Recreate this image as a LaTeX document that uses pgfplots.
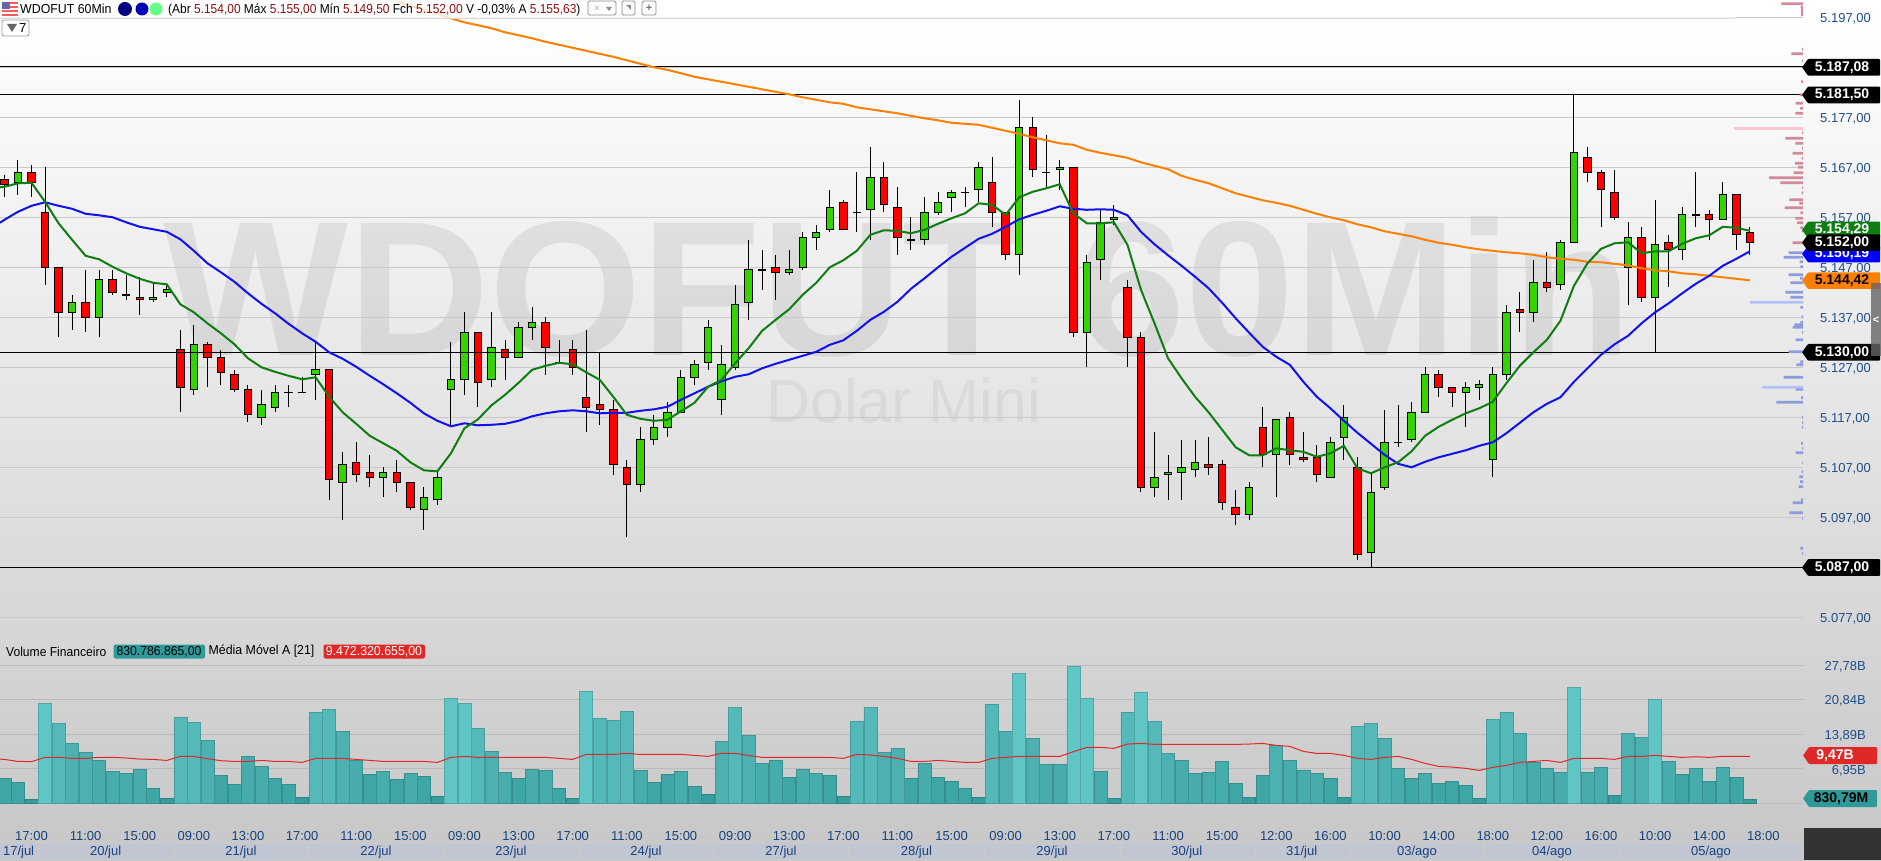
\documentclass[border=0pt]{standalone}
\usepackage{pgfplots}
\usepackage{pgfplotstable}
\usepackage{fontspec}
\setmainfont{Liberation Sans}
\pgfplotsset{compat=1.18}
\definecolor{upc}{HTML}{33D400}
\definecolor{dnc}{HTML}{FF0000}
\definecolor{gl}{HTML}{0F7D12}
\definecolor{bl}{HTML}{1010F0}
\definecolor{ol}{HTML}{FF8000}
\definecolor{gridc}{HTML}{C9C9C9}
\definecolor{tickc}{HTML}{1F4E8C}
\definecolor{xtc}{HTML}{17427E}
\definecolor{price}{HTML}{8B1010}
\definecolor{tealtag}{HTML}{2F9A9A}
\definecolor{redtag}{HTML}{E02828}
\definecolor{pr}{HTML}{D08A98}
\definecolor{prp}{HTML}{FCC5D0}
\definecolor{pb}{HTML}{8C9CDC}
\definecolor{pbp}{HTML}{B0C0F8}
\definecolor{daybox}{HTML}{C2C6D2}
\definecolor{bar1}{HTML}{379C9C}
\definecolor{bar2}{HTML}{3FA6A6}
\definecolor{bar3}{HTML}{47ACAC}
\definecolor{bar4}{HTML}{4DB1B1}
\definecolor{bar5}{HTML}{55B9B9}
\definecolor{bar6}{HTML}{5FC5C5}

% i bottom top low high
\pgfplotstableread{
i b t l h
-1 5164 5166 5161.5 5168.5
3 5138 5140 5134.5 5141.5
5 5137 5144.5 5133 5146.5
9 5140.5 5141 5140 5144
10 5142 5142.5 5141 5143.5
12 5122.5 5131.5 5121.5 5135.5
17 5117 5119.5 5115.5 5122.5
18 5119 5122 5118 5123.5
21 5125.5 5126.5 5120.5 5132
23 5104 5107.5 5096.5 5110
26 5105 5106 5101 5107
29 5098.5 5101 5094.5 5103
30 5100.5 5105 5099.5 5106
31 5122.5 5124.5 5115 5132
32 5124.5 5134 5121.5 5138
34 5124.5 5131 5123 5138
36 5129 5135 5129 5136
37 5135 5136 5132.5 5139
45 5103.5 5112.5 5102 5115
46 5112.5 5115 5111.5 5117.5
47 5115 5118 5113 5120
48 5118 5125 5118 5126.5
49 5125 5127.5 5123.5 5128.5
50 5128 5135 5126.5 5136.5
51 5120.5 5127.5 5117.5 5131.5
52 5127 5139.5 5126.5 5143.5
53 5140 5146.5 5136.5 5152.5
56 5146 5146.5 5145.5 5150.5
57 5147 5153 5146.5 5154
58 5153 5154 5150.5 5155.5
59 5154.5 5159 5154 5162.5
62 5158.5 5165 5152.5 5171
66 5152.5 5158 5151.5 5161
67 5158 5160 5157.5 5162
68 5161 5162 5158 5162.5
70 5162.5 5167 5160 5168
73 5149.5 5175 5145.5 5180.5
76 5166.5 5167 5162.5 5168.5
78 5134 5148 5127 5149.5
79 5148.5 5156 5144.5 5158.5
80 5156.5 5157 5155.5 5159.5
83 5103 5105 5101 5114
84 5105.5 5106 5100.5 5109.5
85 5106 5107 5100.5 5112.5
86 5106.5 5108 5105 5112.5
90 5097.5 5103 5096.5 5104
92 5109.5 5116.5 5101 5116.5
96 5105 5112 5105 5113
97 5113 5117 5108.5 5119.5
99 5090 5102 5087 5106
100 5103 5112 5102.5 5118.5
102 5112.5 5118 5112 5120
103 5118 5125.5 5118 5127
106 5122 5123 5115 5124
107 5123 5123.5 5120.5 5124.5
108 5108.5 5125.5 5105 5127
109 5125.5 5138 5124.5 5139.5
111 5138 5144 5136 5148.5
113 5143.5 5152 5142.5 5152.5
114 5152 5170 5152 5181.5
118 5147 5153 5139.5 5156
120 5141 5151.5 5130 5160.5
122 5150.5 5157.5 5148.5 5159
125 5156.5 5161.5 5156.5 5164
}\upT
\pgfplotstableread{
i b t l h
-2 5163.5 5164.5 5161 5165.5
0 5164 5166 5161 5167.5
1 5147 5158 5143.5 5167
2 5138 5147 5133 5147
4 5137 5140 5134 5146.5
6 5142 5144.5 5141.5 5146.5
8 5140.5 5141 5137.5 5145
11 5123 5130.5 5118 5134.5
13 5129 5131.5 5123 5132
14 5126 5129 5123.5 5130.5
15 5122.5 5125.5 5122 5126.5
16 5117.5 5122.5 5116 5123.5
22 5104.5 5126.5 5100.5 5126.5
24 5105.5 5108 5104 5112
25 5105 5106 5103 5109.5
27 5104 5106 5102 5108.5
28 5099 5104 5098.5 5104
33 5124 5134 5119 5134
35 5129 5130.5 5124.5 5132.5
38 5131 5136 5125.5 5137
40 5127 5130.5 5125.5 5132.5
41 5119 5121 5114 5134.5
42 5118.5 5119.5 5115.5 5130
43 5107.5 5118.5 5105.5 5120.5
44 5103.5 5107 5093 5108.5
55 5146 5147 5140.5 5149.5
60 5154.5 5160 5154.5 5160.5
63 5159.5 5165 5158 5168
64 5153 5159 5149.5 5163
71 5158 5164 5155 5169
72 5149.5 5158 5148.5 5158
74 5166.5 5175 5165 5177
77 5134 5167 5133 5167
81 5133 5143 5127 5144.5
82 5103 5133 5102 5134
87 5107 5107.5 5105.5 5113
88 5100 5107.5 5098.5 5108.5
89 5097.5 5099 5095.5 5102.5
91 5109.5 5115 5107 5119
93 5109.5 5117 5107.5 5118
94 5108.5 5109 5108 5114
95 5105.5 5109 5104 5111.5
98 5089.5 5107 5088.5 5109
104 5123 5125.5 5121 5126.5
105 5122 5123 5119 5123
110 5138 5138.5 5134 5142
112 5143 5144 5142 5150
115 5166 5169 5164 5171
116 5162.5 5166 5155 5166.5
117 5157 5162 5156.5 5166.5
119 5141 5153 5140 5155
121 5150.5 5152 5143 5153.5
124 5156.5 5157.5 5152.5 5158.5
126 5153.5 5161.5 5150.5 5161.5
127 5152 5154 5149.5 5155
}\dnT
\pgfplotstableread{
i b t l h
7 5141.5 5141.5 5140.5 5145.5
19 5122 5122 5119 5123.5
20 5122 5122 5122 5125
39 5128 5128 5128 5132.5
54 5146.5 5146.5 5142.5 5150.5
61 5158 5158 5154 5166
65 5152.5 5152.5 5150.5 5157
69 5162 5162 5159 5163
75 5166 5166 5163 5173.5
101 5112 5112 5111 5119.5
123 5157.5 5157.5 5155 5166
}\dojiT
\pgfplotstableread{
i v
-2 5.09
-1 4.29
0 0.87
1 20.17
2 16.15
3 12.13
4 10.32
5 8.71
6 6.50
7 6.10
8 6.90
9 3.08
10 1.07
11 17.35
12 16.35
13 12.73
14 5.70
15 3.89
16 9.51
17 7.50
18 5.09
19 3.89
20 1.27
21 18.36
22 18.96
23 14.54
24 8.71
25 5.90
26 6.50
27 4.89
28 6.10
29 5.49
30 1.47
31 21.17
32 20.17
33 15.14
34 10.52
35 6.30
36 5.09
37 6.90
38 6.70
39 3.08
40 1.07
41 22.58
42 17.15
43 16.75
44 18.56
45 6.70
46 4.29
47 5.90
48 6.50
49 3.48
50 1.88
51 12.53
52 19.36
53 13.74
54 8.11
55 8.71
56 5.29
57 6.90
58 6.10
59 5.70
60 1.47
61 16.55
62 19.36
63 10.32
64 11.12
65 5.09
66 8.11
67 5.29
68 4.49
69 3.08
70 1.27
71 19.97
72 14.54
73 26.20
74 13.13
75 7.91
76 7.91
77 27.60
78 21.17
79 6.50
80 1.07
81 18.36
82 22.38
83 16.55
84 10.12
85 8.71
86 6.10
87 6.30
88 8.51
89 4.09
90 1.27
91 5.70
92 11.73
93 8.71
94 6.70
95 6.10
96 5.09
97 1.27
98 15.54
99 16.15
100 13.13
101 7.10
102 5.09
103 6.10
104 4.09
105 4.49
106 3.69
107 1.07
108 16.95
109 18.36
110 14.14
111 8.31
112 7.10
113 6.30
114 23.38
115 6.30
116 7.30
117 1.68
118 14.14
119 13.33
120 20.97
121 8.51
122 5.90
123 7.10
124 4.49
125 7.30
126 5.29
127 0.83
}\volT

\pgfplotsset{
  wick/.style={draw=none,no markers,forget plot,
    error bars/y dir=plus,error bars/y explicit,error bars/error mark=none,
    error bars/error bar style={black,line width=1pt}},
  bodyo/.style={draw=none,no markers,forget plot,
    error bars/y dir=plus,error bars/y explicit,error bars/error mark=none,
    error bars/error bar style={black,line width=8.4pt}},
  bodyc/.style={draw=none,no markers,forget plot,
    error bars/y dir=plus,error bars/y explicit,error bars/error mark=none,
    error bars/error bar style={#1,line width=6.4pt}},
  vb/.style={ybar,bar width=13pt,bar shift=0pt,fill=#1,draw=#1!85!black,line width=.6pt,forget plot},
}
\newcommand{\candles}[2]{%
  \addplot[wick] table[x=i,y=l,y error plus expr=\thisrow{h}-\thisrow{l}] {#1};
  \addplot[bodyo] table[x=i,y expr=\thisrow{b}-0.1,y error plus expr=\thisrow{t}-\thisrow{b}+0.2] {#1};
  \addplot[bodyc=#2] table[x=i,y expr=\thisrow{b}+0.1,y error plus expr=\thisrow{t}-\thisrow{b}-0.2] {#1};
}
% price tag at pixel height #1
\newcommand{\ptag}[4]{%
  \pgfmathsetmacro{\yy}{860-#1}
  \fill[#2,rounded corners=.8pt] (1802pt,\yy pt) -- (1808pt,\yy pt+8.3pt) -- (1880pt,\yy pt+8.3pt) -- (1880pt,\yy pt-8.3pt) -- (1808pt,\yy pt-8.3pt) -- cycle;
  \node[#4,font=\fontsize{14}{16}\selectfont\bfseries,inner sep=0pt] at (1842pt,\yy pt) {#3};
}
\newcommand{\dbox}[4]{%
  \fill[daybox] (#1pt,1pt) rectangle (#2pt,16pt);
  \node[xtc,font=\fontsize{13}{15}\selectfont,inner sep=0pt] at (#3pt,8.3pt) {#4};
}

\begin{document}
\begin{tikzpicture}[x=1pt,y=1pt]
\path[use as bounding box] (0pt,0pt) rectangle (1881pt,860pt);
\shade[top color=white,bottom color=black!22] (0pt,0pt) rectangle (1881pt,842pt);
\fill[black!21] (0pt,0pt) rectangle (1881pt,20pt);
% watermark
\node[anchor=base west,inner sep=0pt,black,opacity=.075,xscale=1.02,font=\fontsize{192}{200}\selectfont\bfseries] at (163pt,504pt) {WDOFUT 60Min};
\node[anchor=base west,inner sep=0pt,black,opacity=.05,font=\fontsize{61}{64}\selectfont] at (766pt,437pt) {Dolar Mini};

% --- price panel
\begin{axis}[name=main,at={(0pt,220pt)},anchor=south west,scale only axis,width=1803pt,height=640pt,
  xmin=-2.328,xmax=130.93,ymin=5072.46,ymax=5200.46,
  axis line style={draw=none},tick style={draw=none},major tick length=0pt,
  xtick=\empty,
  ytick={5077,5087,5097,5107,5117,5127,5137,5147,5157,5167,5177,5187,5197},
  yticklabels={{5.077,00},{},{5.097,00},{5.107,00},{5.117,00},{5.127,00},{5.137,00},{5.147,00},{5.157,00},{5.167,00},{5.177,00},{},{5.197,00}},
  yticklabel pos=right,
  yticklabel style={font=\fontsize{13}{15}\selectfont,text=tickc,inner sep=0pt,anchor=west,xshift=17pt,yshift=-1.4pt},
  ymajorgrids,major grid style={gridc,line width=1pt},
]
\candles{\upT}{upc}
\candles{\dnT}{dnc}
\addplot[wick] table[x=i,y=l,y error plus expr=\thisrow{h}-\thisrow{l}] {\dojiT};
\addplot[draw=none,no markers,forget plot,error bars/y dir=plus,error bars/y explicit,error bars/error mark=none,error bars/error bar style={black,line width=8.4pt}] table[x=i,y expr=\thisrow{b}-0.15,y error plus expr=0.3] {\dojiT};
% horizontal levels
\addplot[black,line width=1pt,forget plot] coordinates {(-3,5187.08)(131,5187.08)};
\addplot[black,line width=1pt,forget plot] coordinates {(-3,5181.5)(131,5181.5)};
\addplot[black,line width=1pt,forget plot] coordinates {(-3,5130)(131,5130)};
\addplot[black,line width=1pt,forget plot] coordinates {(-3,5087)(131,5087)};
% orange average
\addplot[ol,line width=2pt,forget plot] coordinates {
(27,5200.2)(28,5199.3)(29,5198.5)(30,5197.7)(31,5196.8)(32,5196)(33,5195.4)(34,5194.8)(35,5194)(36,5193.4)(37,5192.8)(38,5192.1)(39,5191.5)(40,5190.9)(41,5190.3)(42,5189.7)(43,5189.1)(44,5188.4)(45,5187.7)(46,5187)(47,5186.5)(48,5185.8)(49,5185.1)
(50,5184.6)(51,5184.1)(52,5183.6)(53,5183.1)(54,5182.6)(55,5182.1)(56,5181.6)(57,5181)(58,5180.5)(59,5180)(60,5179.7)(61,5179)(62,5178.6)(63,5178.2)(64,5177.8)(65,5177.3)(66,5176.8)(67,5176.4)(68,5175.9)(69,5175.7)(70,5175.5)(71,5174.9)(72,5174.3)(73,5173.7)(74,5173)(75,5172.4)(76,5171.8)(77,5171.5)(78,5170.5)(79,5169.9)(80,5169.4)(81,5168.9)(82,5168)(83,5167.3)(84,5166.6)(85,5165.3)(86,5164.5)(87,5163.8)(88,5162.8)(89,5161.8)(90,5161.1)(91,5160.4)(92,5159.9)(93,5159.3)
(94,5158.5)(95,5157.7)(96,5157)(97,5156.4)(98,5155.6)(99,5155)(100,5154.2)(101,5153.7)(102,5153.2)(103,5152.5)(104,5151.9)(105,5151.5)(106,5151)(107,5150.6)(108,5150.3)(109,5150)(110,5149.8)(111,5149.5)(112,5149)(113,5148.7)(114,5148.5)(115,5148.1)(116,5148)(117,5147.7)(118,5147.4)(119,5146.8)(120,5146.4)(121,5146.2)(122,5145.8)(123,5145.6)(124,5145.3)(125,5145)(126,5144.7)(127,5144.4)};
% blue average
\addplot[bl,line width=2pt,forget plot] coordinates {
(-2.33,5155.9)(-2,5156.5)(-1,5158.1)(0,5159.3)(1,5160)(2,5159.3)(3,5158.7)(4,5157.7)(5,5157.4)(6,5157)(7,5156)(8,5155.1)(9,5154.6)(10,5154.1)(11,5152.6)(12,5150.3)(13,5147.8)(14,5146)(15,5144.1)(16,5141.8)(17,5139.7)(18,5137.8)(19,5135.7)(20,5133.8)(21,5132.1)(22,5130)(23,5128.7)(24,5127.1)(25,5125.3)(26,5123.6)(27,5121.8)(28,5119.9)(29,5117.8)(30,5116.3)(31,5115.2)(32,5115.8)(33,5115.4)(34,5115.5)(35,5115.7)(36,5116.3)(37,5117.2)(38,5117.8)(39,5118.2)(40,5118.4)(41,5118.2)(42,5117.8)(43,5117.9)(44,5117.9)(45,5118.3)(46,5118.6)(47,5119.1)(48,5120.5)(49,5121.8)(50,5123.1)(51,5124.2)(52,5125.1)(53,5125.6)(54,5126.8)(55,5127.7)(56,5128.5)(57,5129.3)(58,5130.1)(59,5131.5)(60,5132.4)(61,5134.3)(62,5136.5)(63,5138.1)(64,5140.1)(65,5142.7)(66,5144.8)(67,5147)(68,5149.1)(69,5150.9)(70,5152.7)(71,5153.7)(72,5155.1)(73,5156.6)(74,5157.5)(75,5158.3)(76,5159.2)(77,5158.7)(78,5158.5)(79,5158.6)(80,5158.5)(81,5157.4)(82,5154.1)(83,5151.6)(84,5149.4)(85,5147.3)(86,5145.1)(87,5142.8)(88,5139.9)(89,5136.8)(90,5133.9)(91,5131.1)(92,5129.1)(93,5127.5)(94,5124.1)(95,5121.1)(96,5118.8)(97,5116.3)(98,5113.9)(99,5111.7)(100,5109.5)(101,5107.7)(102,5107)(103,5108.1)(104,5109)(105,5109.7)(106,5110.4)(107,5111.3)(108,5112)(109,5113.8)(110,5115.9)(111,5118)(112,5119.7)(113,5121)(114,5124.1)(115,5126.8)(116,5129.5)(117,5131.6)(118,5133.3)(119,5135.8)(120,5138)(121,5139.8)(122,5141.8)(123,5143.7)(124,5145.3)(125,5147.3)(126,5148.7)(127,5150.2)};
% green average
\addplot[gl,line width=2pt,forget plot] coordinates {
(-2.33,5163)(-2,5163.1)(-1,5163.8)(0,5163.9)(1,5160.1)(2,5155.8)(3,5152.5)(4,5149.3)(5,5148.6)(6,5147.1)(7,5145.8)(8,5144.7)(9,5143.9)(10,5143.6)(11,5139.6)(12,5138)(13,5135.8)(14,5133.8)(15,5131.6)(16,5128.8)(17,5127)(18,5126.1)(19,5125.3)(20,5124.6)(21,5125)(22,5121.1)(23,5118)(24,5115.7)(25,5113.3)(26,5111.8)(27,5110.3)(28,5108)(29,5106.4)(30,5106.2)(31,5109.8)(32,5114.8)(33,5116.6)(34,5119.4)(35,5121.5)(36,5123.9)(37,5126.5)(38,5127.3)(39,5127.9)(40,5127.6)(41,5126)(42,5124.5)(43,5121.1)(44,5117.5)(45,5116.7)(46,5116.3)(47,5116.5)(48,5118.2)(49,5119.9)(50,5123.1)(51,5124.5)(52,5127.8)(53,5130.8)(54,5134.3)(55,5136.5)(56,5138.6)(57,5141.5)(58,5143.9)(59,5147)(60,5148.4)(61,5150.3)(62,5153.5)(63,5154.4)(64,5154.3)(65,5153.8)(66,5154.5)(67,5155.7)(68,5156.8)(69,5157.8)(70,5159.8)(71,5159.5)(72,5157.5)(73,5161)(74,5162.1)(75,5162.8)(76,5163.6)(77,5157.8)(78,5155.8)(79,5155.8)(80,5156)(81,5151.5)(82,5142.5)(83,5135.8)(84,5128.8)(85,5124.8)(86,5121.1)(87,5118)(88,5114.5)(89,5111)(90,5109.4)(91,5109.4)(92,5110.8)(93,5110.4)(94,5110.1)(95,5109.1)(96,5109.8)(97,5111.3)(98,5106.8)(99,5105.8)(100,5107)(101,5108)(102,5110.2)(103,5113.3)(104,5115.1)(105,5116.5)(106,5117.8)(107,5118.8)(108,5120.1)(109,5123.8)(110,5127.3)(111,5130)(112,5132.5)(113,5136.3)(114,5143.3)(115,5147.8)(116,5150.7)(117,5151.8)(118,5152)(119,5149.8)(120,5150.2)(121,5150.2)(122,5151.7)(123,5152.8)(124,5153.4)(125,5155.1)(126,5154.9)(127,5154.3)};
\end{axis}

% --- volume profile beside the price scale
\begin{axis}[at={(1803pt,220pt)},anchor=south east,scale only axis,width=90pt,height=640pt,
  xmin=0,xmax=90,x dir=reverse,ymin=5072.46,ymax=5200.46,hide axis,clip=true]
\pgfplotsset{every axis plot/.append style={xbar,bar width=2.6pt,bar shift=0pt,draw=none,forget plot}}
\addplot[fill=pr] coordinates {(21.7,5199.7)(2.5,5199)(2,5198.5)(2,5198)(2,5197.5)(1,5190.6)(11.7,5189.7)(1,5188.3)(2,5184.1)(3.3,5181.5)(7.3,5179.8)(3,5178.8)(7.7,5177.8)(1,5173.9)(17.7,5172.8)(7.7,5171.8)(1,5170.8)(10.3,5169.8)(1.5,5168.8)(8,5167.8)(5,5167)(9.3,5165.9)(34,5164.9)(22.7,5163.9)(1,5162.9)(1.5,5161.9)(13.7,5160.5)(3.7,5159.8)(18.3,5158.9)(2.7,5157.9)(7.7,5156.8)(6,5155.9)(2.7,5154.9)(1,5154.3)(10.3,5151.9)};
\addplot[fill=prp] coordinates {(69,5174.8)};
\addplot[fill=pb] coordinates {(14.3,5149.9)(19.3,5149)(3.3,5148.1)(2.7,5147.1)(14.3,5145.5)(3,5144.8)(12.7,5143.9)(17.7,5142)(12.7,5141)(2.7,5139)(1.5,5137.1)(2.7,5136)(8.7,5135.5)(10.3,5135)(1,5134)(7.3,5132.5)(14.3,5130.1)(2.7,5128.1)(6.7,5127.5)(19.3,5125)(7.3,5122.6)(2,5120.9)(26.7,5120)(1,5117)(1,5115.9)(1,5115)(2,5111.8)(1,5110.8)(7.3,5109.9)(.7,5107.9)(1.5,5106.1)(3.7,5105.1)(3,5104.1)(4.3,5103.1)(2,5100.5)(10.3,5099.9)(13.7,5097.9)(1,5096.8)(2.7,5090.8)(1,5089.8)};
\addplot[fill=pbp] coordinates {(53,5140)(40.7,5123)};
\end{axis}

% --- volume panel
\begin{axis}[name=vol,at={(0pt,32pt)},anchor=south west,scale only axis,width=1803pt,height=188pt,
  xmin=-2.328,xmax=130.93,ymin=-4.945,ymax=32.84,
  axis line style={draw=none},tick style={draw=none},major tick length=0pt,
  xtick={0,4,...,128},
  xticklabels={17:00,11:00,15:00,09:00,13:00,17:00,11:00,15:00,09:00,13:00,17:00,11:00,15:00,09:00,13:00,17:00,11:00,15:00,09:00,13:00,17:00,11:00,15:00,12:00,16:00,10:00,14:00,18:00,12:00,16:00,10:00,14:00,18:00},
  xticklabel style={font=\fontsize{13}{15}\selectfont,text=xtc,inner sep=0pt,yshift=-3pt},
  ytick={0,6.95,13.89,20.84,27.78},
  yticklabels={{},{6,95B},{13,89B},{20,84B},{27,78B}},
  yticklabel pos=right,
  yticklabel style={font=\fontsize{13}{15}\selectfont,text=tickc,inner sep=0pt,anchor=east,xshift=63pt,yshift=-1.5pt},
  ymajorgrids,major grid style={black!27,line width=1pt},
]
\addplot[vb=bar1] table[x=i,y=v,restrict y to domain=0:3] {\volT};
\addplot[vb=bar2] table[x=i,y=v,restrict y to domain=3:6] {\volT};
\addplot[vb=bar3] table[x=i,y=v,restrict y to domain=6:10] {\volT};
\addplot[vb=bar4] table[x=i,y=v,restrict y to domain=10:15] {\volT};
\addplot[vb=bar5] table[x=i,y=v,restrict y to domain=15:20] {\volT};
\addplot[vb=bar6] table[x=i,y=v,restrict y to domain=20:30] {\volT};
\addplot[redtag,line width=1pt,forget plot] coordinates {
(-2.33,8.9)(-2,8.84)(-1,8.44)(0,8.4)(1,9.25)(2,9.25)(3,9.05)(4,9.05)(5,9.25)(6,9.25)(7,9.12)(8,8.91)(9,8.84)(10,8.64)(11,9.45)(12,9.45)(13,8.98)(14,8.58)(15,8.44)(16,8.44)(17,8.64)(18,8.44)(19,8.44)(20,8.24)(21,9.05)(22,9.05)(23,9.05)(24,8.84)(25,8.64)(26,8.44)(27,8.44)(28,8.44)(29,8.44)(30,8.24)(31,9.25)(32,9.45)(33,9.25)(34,9.25)(35,9.25)(36,9.25)(37,9.25)(38,9.25)(39,9.05)(40,8.84)(41,9.85)(42,9.85)(43,9.85)(44,10.05)(45,9.85)(46,9.85)(47,9.85)(48,9.85)(49,9.65)(50,9.45)(51,10.05)(52,10.05)(53,9.65)(54,9.25)(55,9.25)(56,9.25)(57,9.25)(58,9.25)(59,9.25)(60,9.05)(61,9.85)(62,9.72)(63,9.45)(64,9.05)(65,8.44)(66,8.44)(67,8.64)(68,8.44)(69,8.24)(70,8.24)(71,9.05)(72,9.25)(73,9.45)(74,9.45)(75,9.45)(76,9.45)(77,10.39)(78,11.26)(79,11.26)(80,11.06)(81,11.93)(82,12.06)(83,11.86)(84,11.86)(85,11.86)(86,11.86)(87,11.86)(88,11.86)(89,11.86)(90,11.93)(91,12.06)(92,11.66)(93,11.46)(94,10.45)(95,10.05)(96,10.05)(97,9.65)(98,9.05)(99,8.84)(100,9.25)(101,9.45)(102,8.84)(103,8.04)(104,7.44)(105,7.3)(106,7.04)(107,6.63)(108,7.24)(109,7.64)(110,8.24)(111,8.44)(112,8.64)(113,8.24)(114,9.05)(115,9.05)(116,9.05)(117,8.84)(118,9.45)(119,9.45)(120,9.65)(121,9.45)(122,9.25)(123,9.38)(124,9.25)(125,9.45)(126,9.45)(127,9.45)};
\end{axis}

% --- header strip, drawn over the axis top
\fill[white,opacity=.78] (0pt,842pt) rectangle (1735pt,860pt);
\fill[black!14] (0pt,841.5pt) rectangle (1735pt,842.3pt);
% flag
\fill[white] (2pt,844pt) rectangle (18pt,858pt);
\foreach \k in {0,2,4,6}{\fill[dnc!65!white] (2pt,844pt+\k*2pt) rectangle (18pt,844pt+\k*2pt+2pt);}
\fill[blue!45!black!60!white] (2pt,851pt) rectangle (10pt,858pt);
\node[anchor=base west,inner sep=0pt,xscale=.95,font=\fontsize{13}{15}\selectfont] at (20pt,846pt) {WDOFUT 60Min};
\fill[blue!50!black] (125pt,851pt) circle (7pt);
\fill[blue!70!black] (142pt,851pt) circle (6.5pt);
\fill[green!80!cyan!60!white] (156pt,851pt) circle (6.5pt);
\node[anchor=base west,inner sep=0pt,xscale=.92,font=\fontsize{13}{15}\selectfont] at (168pt,846pt) {(Abr \textcolor{price}{5.154,00} Máx \textcolor{price}{5.155,00} Mín \textcolor{price}{5.149,50} Fch \textcolor{price}{5.152,00} V -0,03\% A \textcolor{price}{5.155,63})};
\foreach \a/\b in {588/616,622/635,642/656}{\draw[black!45,fill=white,rounded corners=1.5pt,line width=.8pt] (\a pt,845pt) rectangle (\b pt,859pt);}
\node[black!55,font=\fontsize{9}{9}\selectfont,inner sep=0pt] at (597pt,852pt) {$\times$};
\fill[black!45] (606pt,853pt) -- (612pt,853pt) -- (609pt,849pt) -- cycle;
\fill[black!45] (626pt,855pt) -- (631pt,855pt) -- (631pt,850pt) -- cycle;
\node[black!55,font=\fontsize{11}{11}\selectfont\bfseries,inner sep=0pt] at (649pt,852pt) {+};
\draw[black!40,fill=white,rounded corners=2pt,line width=.8pt] (2pt,824pt) rectangle (29pt,840pt);
\fill[black!60] (7pt,836pt) -- (17pt,836pt) -- (12pt,828pt) -- cycle;
\node[anchor=west,inner sep=0pt,font=\fontsize{13}{15}\selectfont] at (19pt,832pt) {7};

% --- volume legend
\node[anchor=west,inner sep=0pt,xscale=.93,font=\fontsize{13}{15}\selectfont] at (6pt,208.5pt) {Volume Financeiro};
\fill[tealtag,rounded corners=2pt] (113.5pt,201.5pt) rectangle (205pt,215.5pt);
\node[inner sep=0pt,xscale=.94,font=\fontsize{13}{15}\selectfont] at (159pt,208.5pt) {830.786.865,00};
\node[anchor=west,inner sep=0pt,xscale=.95,font=\fontsize{13}{15}\selectfont] at (208.5pt,208.5pt) {Média Móvel A [21]};
\fill[redtag,rounded corners=2pt] (323.5pt,201.5pt) rectangle (425pt,215.5pt);
\node[white,inner sep=0pt,xscale=.95,font=\fontsize{13}{15}\selectfont] at (374pt,208.5pt) {9.472.320.655,00};

% --- date strip
\dbox{0}{38}{18.6}{17/jul}
\dbox{39.8}{172.5}{105.7}{20/jul}
\dbox{175}{307.6}{240.9}{21/jul}
\dbox{310}{442.8}{376}{22/jul}
\dbox{445.3}{577.5}{511}{23/jul}
\dbox{580}{712.9}{646}{24/jul}
\dbox{715.4}{848}{781}{27/jul}
\dbox{850}{984}{916.4}{28/jul}
\dbox{986}{1118.8}{1052}{29/jul}
\dbox{1121.7}{1254}{1186.8}{30/jul}
\dbox{1256}{1349}{1301.7}{31/jul}
\dbox{1351}{1484}{1417}{03/ago}
\dbox{1486}{1619}{1552}{04/ago}
\dbox{1621}{1802}{1711}{05/ago}
\fill[black!80] (1804pt,0pt) rectangle (1881pt,32pt);

% --- price tags
\ptag{67.3}{black}{5.187,08}{white}
\ptag{95}{black}{5.181,50}{white}
\ptag{254}{blue}{5.150,19}{white}
\ptag{230}{gl}{5.154,29}{white}
\ptag{242.7}{black}{5.152,00}{white}
\ptag{280.7}{ol}{5.144,42}{black}
\ptag{352.3}{black}{5.130,00}{white}
\ptag{567.5}{black}{5.087,00}{white}
% scale handle
\fill[black!60,opacity=.8] (1871pt,504pt) rectangle (1881pt,577pt);
\node[white,font=\fontsize{11}{11}\selectfont\bfseries,inner sep=0pt] at (1876pt,540pt) {<};
% volume tags
\fill[redtag,rounded corners=.8pt] (1803pt,104.5pt) -- (1809pt,113pt) -- (1877pt,113pt) -- (1877pt,96pt) -- (1809pt,96pt) -- cycle;
\node[white,inner sep=0pt,font=\fontsize{14}{16}\selectfont\bfseries] at (1835pt,104.5pt) {9,47B};
\fill[tealtag,rounded corners=.8pt] (1803pt,61.5pt) -- (1809pt,70pt) -- (1877pt,70pt) -- (1877pt,53pt) -- (1809pt,53pt) -- cycle;
\node[black,inner sep=0pt,font=\fontsize{14}{16}\selectfont\bfseries] at (1841pt,61.5pt) {830,79M};
\end{tikzpicture}
\end{document}
